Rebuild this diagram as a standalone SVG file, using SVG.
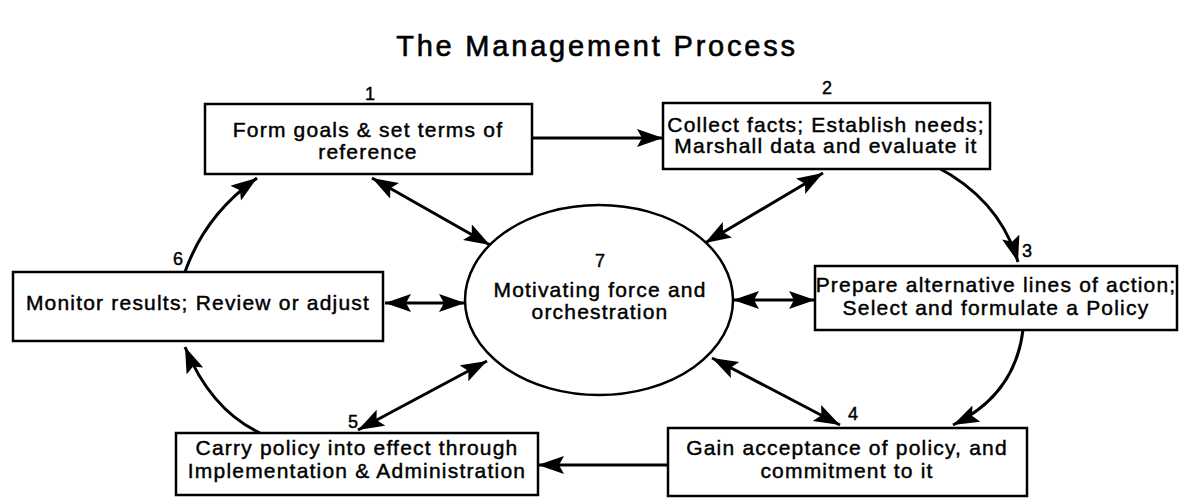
<svg xmlns="http://www.w3.org/2000/svg" width="1193" height="498" viewBox="0 0 1193 498">
<style>
text{font-family:"Liberation Sans",Arial,sans-serif;fill:#000;text-anchor:middle;stroke:#000;stroke-width:0.45}
.t{font-size:21px;letter-spacing:1.2px}
.n{font-size:18px}
.title{font-size:29px;letter-spacing:2.8px;stroke-width:0.6}
.box{fill:#fff;stroke:#000;stroke-width:2.5}
.c{fill:none;stroke:#000;stroke-width:3}
.d{fill:none;stroke:#000;stroke-width:3;marker-start:url(#ah);marker-end:url(#ah)}
.s{fill:none;stroke:#000;stroke-width:3;marker-end:url(#ah)}
</style>
<defs>
<marker id="ah" markerUnits="userSpaceOnUse" markerWidth="28" markerHeight="20" refX="26" refY="9" orient="auto-start-reverse">
<path d="M0,0 L26,9 L0,18 L5,9 z" fill="#000"/>
</marker>
</defs>
<rect width="1193" height="498" fill="#fff"/>
<text class="title" x="597" y="56">The Management Process</text>

<g id="connectors">
<path class="s" d="M532,138 L663,138"/>
<path class="d" d="M372,178 L490,245"/>
<path class="d" d="M823,173 L705,243"/>
<path class="d" d="M385,303 L465,303"/>
<path class="d" d="M733,300 L815,300"/>
<path class="d" d="M712,358 L840,425"/>
<path class="d" d="M487,361 L358,430"/>
<path class="s" d="M668,465 L538,465"/>
<path class="s" d="M937,167 Q1000,200 1018,262"/>
<path class="s" d="M1023,330 Q1015,395 953,425"/>
<path class="s" d="M260,433 Q211,410 185,347"/>
<path class="s" d="M185,272 Q205,215 257,178"/>
</g>

<g id="node1">
<rect class="box" x="205" y="104" width="327" height="70"/>
<text class="n" x="370" y="100">1</text>
<text class="t" x="368" y="137">Form goals &amp; set terms of</text>
<text class="t" x="368" y="159">reference</text>
</g>
<g id="node2">
<rect class="box" x="663" y="103" width="327" height="66"/>
<text class="n" x="827" y="94">2</text>
<text class="t" x="826" y="132">Collect facts; Establish needs;</text>
<text class="t" x="826" y="153">Marshall data and evaluate it</text>
</g>
<g id="node3">
<rect class="box" x="815" y="266" width="362" height="64"/>
<text class="n" x="1027" y="257">3</text>
<text class="t" x="996" y="292">Prepare alternative lines of action;</text>
<text class="t" x="996" y="315">Select and formulate a Policy</text>
</g>
<g id="node4">
<rect class="box" x="668" y="428" width="359" height="68"/>
<text class="n" x="853" y="420">4</text>
<text class="t" x="847" y="455">Gain acceptance of policy, and</text>
<text class="t" x="847" y="478">commitment to it</text>
</g>
<g id="node5">
<rect class="box" x="176" y="433" width="362" height="62"/>
<text class="n" x="353" y="428">5</text>
<text class="t" x="357" y="455">Carry policy into effect through</text>
<text class="t" x="357" y="478">Implementation &amp; Administration</text>
</g>
<g id="node6">
<rect class="box" x="13" y="272" width="370" height="69"/>
<text class="n" x="178" y="265">6</text>
<text class="t" x="198" y="310">Monitor results; Review or adjust</text>
</g>
<g id="node7">
<ellipse class="box" cx="599" cy="300" rx="134" ry="95"/>
<text class="n" x="600" y="267">7</text>
<text class="t" x="600" y="297">Motivating force and</text>
<text class="t" x="600" y="319">orchestration</text>
</g>
</svg>
